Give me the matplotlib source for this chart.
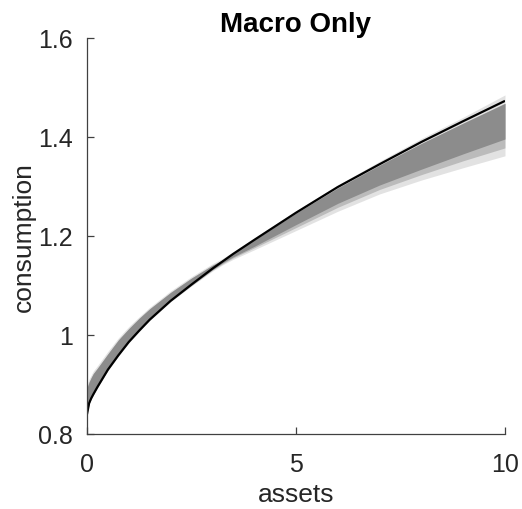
import matplotlib
matplotlib.use("Agg")
import matplotlib.pyplot as plt
import numpy as np

# assets grid and values
assets = [0, 0.05, 0.1, 0.15, 0.25, 0.5, 0.75, 1, 1.25, 1.5, 2, 2.5, 3, 3.25, 3.5,
          4, 5, 6, 7, 8, 9, 10]
consumption_true = [0.840, 0.862, 0.872, 0.880, 0.895, 0.930, 0.959, 0.986, 1.009,
                    1.031, 1.069, 1.102, 1.134, 1.149, 1.164, 1.192, 1.247, 1.299,
                    1.345, 1.390, 1.432, 1.473]
# dense gray band of estimated policy functions
band_upper = [0.893, 0.905, 0.914, 0.922, 0.933, 0.962, 0.990, 1.013, 1.034,
              1.053, 1.086, 1.115, 1.141, 1.152, 1.165, 1.192, 1.246, 1.297,
              1.343, 1.387, 1.428, 1.468]
band_lower = [0.841, 0.862, 0.872, 0.880, 0.895, 0.930, 0.959, 0.986, 1.009,
              1.031, 1.069, 1.101, 1.132, 1.146, 1.158, 1.179, 1.223, 1.266,
              1.303, 1.335, 1.366, 1.396]
# faint outer halo of the band
halo_upper = [0.899, 0.911, 0.919, 0.927, 0.938, 0.967, 0.994, 1.017, 1.037,
              1.056, 1.089, 1.118, 1.144, 1.155, 1.168, 1.196, 1.251, 1.303,
              1.351, 1.397, 1.440, 1.485]
halo_lower = [0.839, 0.861, 0.871, 0.879, 0.893, 0.928, 0.957, 0.984, 1.007,
              1.029, 1.067, 1.099, 1.129, 1.142, 1.153, 1.172, 1.211, 1.250,
              1.285, 1.313, 1.338, 1.362]
# intermediate fade between core and halo
mid_lower = [0.840, 0.861, 0.871, 0.879, 0.894, 0.929, 0.958, 0.985, 1.008,
             1.030, 1.068, 1.100, 1.131, 1.144, 1.156, 1.176, 1.217, 1.258,
             1.294, 1.324, 1.352, 1.378]

title = "Macro Only"
xlabel = "assets"
ylabel = "consumption"
xticks = [0, 5, 10]
yticks = [0.8, 1.0, 1.2, 1.4, 1.6]
yticklabels = ["0.8", "1", "1.2", "1.4", "1.6"]

plt.rcParams['font.family'] = ['Liberation Sans', 'DejaVu Sans']
fig = plt.figure(figsize=(5.22, 5.10), dpi=100)
ax = fig.add_axes([87/522, 75/510, 418/522, 396/510])

gray = '#8c8c8c'
ax.fill_between(assets, halo_lower, halo_upper, color=gray, alpha=0.25, lw=0)
ax.fill_between(assets, mid_lower, band_upper, color=gray, alpha=0.45, lw=0)
ax.fill_between(assets, band_lower, band_upper, color=gray, alpha=1.0, lw=0)
ax.plot(assets, consumption_true, color='black', lw=1.6, solid_capstyle='butt',
        solid_joinstyle='round')

ax.set_xlim(0, 10)
ax.set_ylim(0.8, 1.6)
ax.set_xticks(xticks)
ax.set_xticklabels([str(t) for t in xticks])
ax.set_yticks(yticks)
ax.set_yticklabels(yticklabels)

spine_color = '#404040'
for s in ['top', 'right']:
    ax.spines[s].set_visible(False)
for s in ['left', 'bottom']:
    ax.spines[s].set_color(spine_color)
    ax.spines[s].set_linewidth(0.9)
ax.tick_params(direction='in', length=5, width=0.9, color=spine_color,
               labelsize=18, labelcolor='#262626')
ax.tick_params(axis='x', pad=13)
ax.tick_params(axis='y', pad=10)

ax.set_xlabel(xlabel, fontsize=19, color='#262626', labelpad=4)
ax.set_ylabel(ylabel, fontsize=19, color='#262626', labelpad=2)
ax.set_title(title, fontsize=20, fontweight='bold', color='black', pad=5)

fig.savefig("out.png", dpi=100)
